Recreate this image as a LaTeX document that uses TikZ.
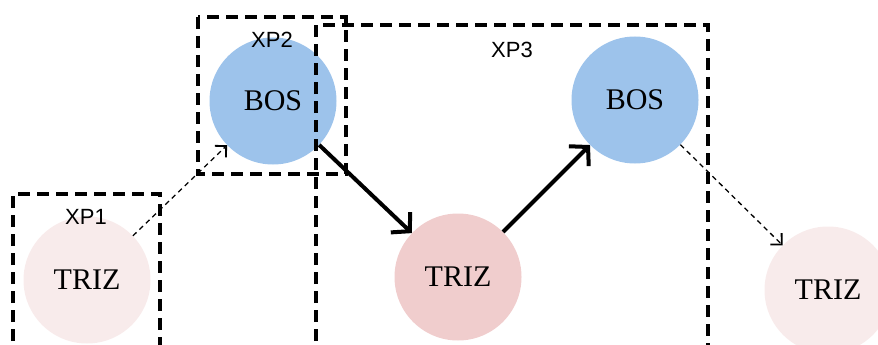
\documentclass[tikz,border=0pt]{standalone}
\usepackage{fontspec}
\setmainfont{Liberation Serif}
\newfontfamily\xpfont{Liberation Sans}
\usepackage{tikz}
\usetikzlibrary{arrows.meta, positioning}

\definecolor{bosblue}{HTML}{9DC3EB}
\definecolor{trizpink}{HTML}{F0CDCD}
\definecolor{trizpale}{HTML}{F8EBEB}

\begin{document}
\begin{tikzpicture}[
    x=1pt, y=-1pt,
    circ/.style={circle, minimum size=127pt, inner sep=0pt, font=\fontsize{30}{30}\selectfont},
    xpbox/.style={draw, line width=4pt, dash pattern=on 12pt off 7pt},
    xplabel/.style={font=\xpfont\fontsize{22}{22}\selectfont, inner sep=0pt},
    flow/.style={-{Straight Barb[length=13pt, width=28pt, line width=4pt]}, line width=4pt},
    hint/.style={-{Straight Barb[length=8pt, width=16pt, line width=1.8pt]}, line width=1.3pt, dash pattern=on 5pt off 4pt}
]
    \clip (0,0) rectangle (878,345);

    % circles
    \node[circ, fill=trizpale] (triz_a) at (87,280) {TRIZ};
    \node[circ, fill=bosblue] (bos_a) at (273,101) {BOS};
    \node[circ, fill=trizpink] (triz_b) at (458,277) {TRIZ};
    \node[circ, fill=bosblue] (bos_b) at (635,100) {BOS};
    \node[circ, fill=trizpale] (triz_c) at (828,290) {TRIZ};

    % experiment boxes
    \draw[xpbox] (13,360) -- (13,194) -- (160,194) -- (160,360);
    \draw[xpbox] (198,17) rectangle (346,174);
    \draw[xpbox] (316,360) -- (316,25) -- (708,25) -- (708,360);
    \node[xplabel] (xp1) at (86,217) {XP1};
    \node[xplabel] (xp2) at (272,40) {XP2};
    \node[xplabel] (xp3) at (512,50) {XP3};

    % arrows
    \draw[hint] (triz_a) -- (bos_a);
    \draw[flow] (bos_a) -- (triz_b);
    \draw[flow] (triz_b) -- (bos_b);
    \draw[hint] (bos_b) -- (triz_c);
\end{tikzpicture}
\end{document}
